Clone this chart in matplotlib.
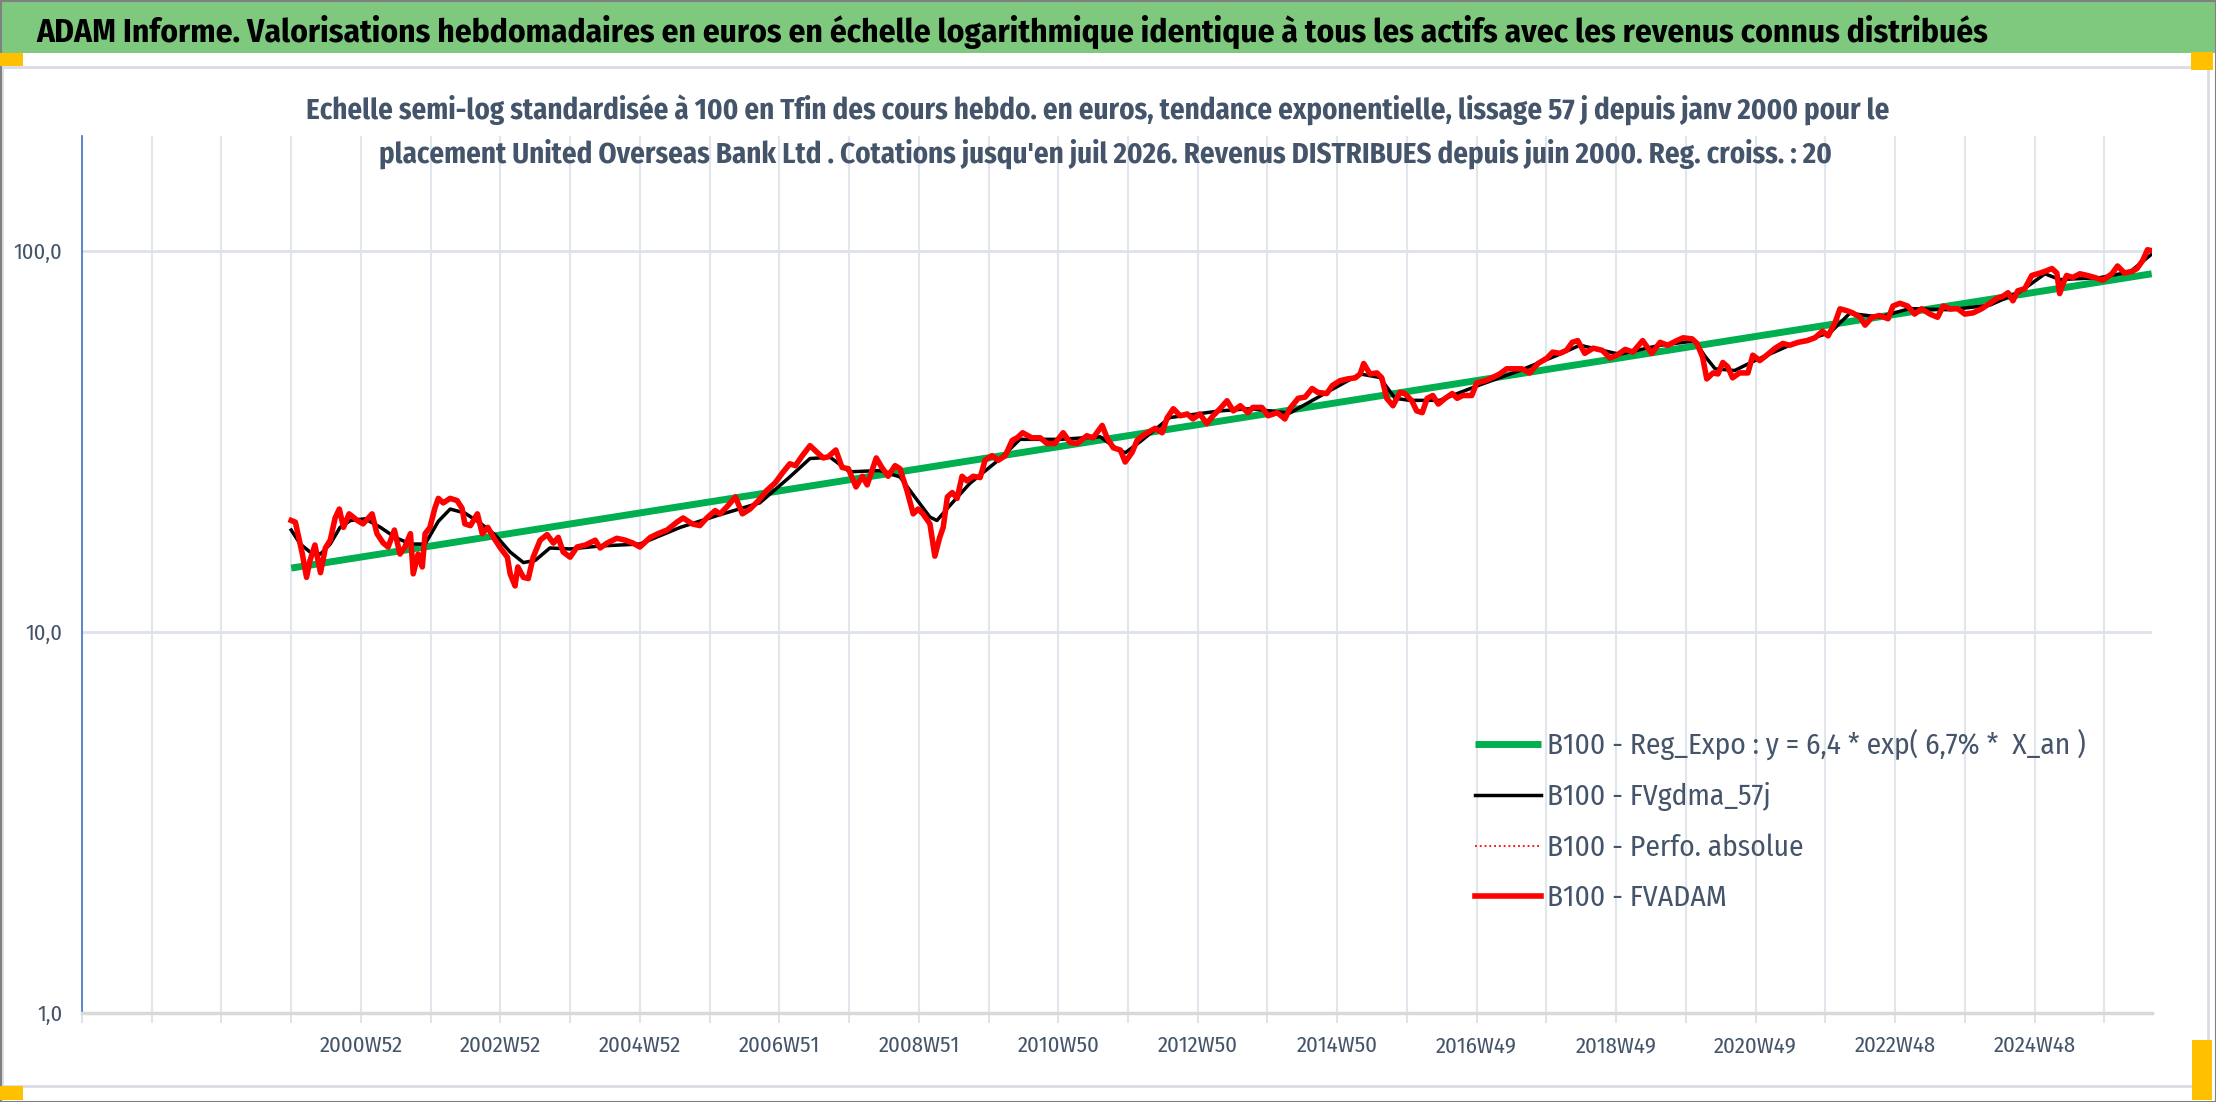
import matplotlib
matplotlib.use('Agg')
import matplotlib.pyplot as plt
from matplotlib.patches import Rectangle
from matplotlib.ticker import FixedLocator, NullLocator
import numpy as np

W, H = 2216, 1102
plt.rcParams['font.family'] = ['Fira Sans Condensed', 'DejaVu Sans']

TITLE = ("ADAM Informe. Valorisations hebdomadaires en euros en échelle logarithmique "
         "identique à tous les actifs avec les revenus connus distribués")
SUB1 = ("Echelle semi-log standardisée à 100 en Tfin des cours hebdo. en euros, tendance "
        "exponentielle, lissage 57 j depuis janv 2000 pour le")
SUB2 = ("placement United Overseas Bank Ltd . Cotations jusqu'en juil 2026. Revenus "
        "DISTRIBUES depuis juin 2000. Reg. croiss. : 20")

labels = ["B100 - Reg_Expo : y = 6,4 * exp( 6,7% *  X_an )",
          "B100 - FVgdma_57j",
          "B100 - Perfo. absolue",
          "B100 - FVADAM"]

# x tick labels, one every 104 weeks starting at the 5th gridline
tick_labels = ["2000W52", "2002W52", "2004W52", "2006W51", "2008W51", "2010W50",
               "2012W50", "2014W50", "2016W49", "2018W49", "2020W49", "2022W48",
               "2024W48"]
y_ticks = [1, 10, 100]
y_tick_labels = ["1,0", "10,0", "100,0"]

# values (time in decimal years)
green_t = [2000.00, 2026.68]
green_v = [14.7, 87.0]

red_t = [2000.00, 2000.06, 2000.16, 2000.22, 2000.27, 2000.34, 2000.42, 2000.49, 2000.56,
         2000.63, 2000.69, 2000.75, 2000.83, 2000.95, 2001.03, 2001.16, 2001.23, 2001.32,
         2001.39, 2001.48, 2001.56, 2001.63, 2001.71, 2001.75, 2001.82, 2001.88, 2001.92,
         2001.99, 2002.06, 2002.11, 2002.18, 2002.28, 2002.38, 2002.45, 2002.49, 2002.57,
         2002.67, 2002.74, 2002.82, 2002.90, 2003.00, 2003.10, 2003.14, 2003.21, 2003.25,
         2003.33, 2003.40, 2003.47, 2003.57, 2003.67, 2003.76, 2003.83, 2003.90, 2004.00,
         2004.10, 2004.22, 2004.36, 2004.43, 2004.53, 2004.67, 2004.79, 2004.90, 2005.00,
         2005.15, 2005.26, 2005.39, 2005.53, 2005.62, 2005.75, 2005.86, 2005.96, 2006.08,
         2006.15, 2006.25, 2006.37, 2006.47, 2006.58, 2006.70, 2006.82, 2006.94, 2007.05,
         2007.15, 2007.23, 2007.33, 2007.44, 2007.54, 2007.63, 2007.70, 2007.81, 2007.90,
         2007.99, 2008.10, 2008.19, 2008.26, 2008.39, 2008.47, 2008.56, 2008.66, 2008.73,
         2008.83, 2008.92, 2008.99, 2009.06, 2009.16, 2009.23, 2009.30, 2009.35, 2009.41,
         2009.48, 2009.55, 2009.62, 2009.69, 2009.78, 2009.88, 2009.95, 2010.05, 2010.14,
         2010.24, 2010.34, 2010.41, 2010.49, 2010.62, 2010.74, 2010.84, 2010.95, 2011.07,
         2011.17, 2011.27, 2011.41, 2011.50, 2011.63, 2011.70, 2011.79, 2011.89, 2011.96,
         2012.06, 2012.13, 2012.24, 2012.39, 2012.49, 2012.56, 2012.65, 2012.75, 2012.85,
         2012.93, 2013.03, 2013.13, 2013.22, 2013.32, 2013.42, 2013.51, 2013.61, 2013.72,
         2013.79, 2013.92, 2014.01, 2014.14, 2014.25, 2014.32, 2014.44, 2014.54, 2014.64,
         2014.72, 2014.85, 2014.93, 2015.04, 2015.15, 2015.26, 2015.33, 2015.38, 2015.47,
         2015.57, 2015.64, 2015.71, 2015.80, 2015.90, 2015.97, 2016.07, 2016.14, 2016.22,
         2016.29, 2016.37, 2016.45, 2016.55, 2016.65, 2016.72, 2016.80, 2016.93, 2017.00,
         2017.12, 2017.22, 2017.33, 2017.43, 2017.52, 2017.65, 2017.76, 2017.88, 2018.01,
         2018.09, 2018.19, 2018.29, 2018.37, 2018.45, 2018.55, 2018.67, 2018.80, 2018.91,
         2019.01, 2019.13, 2019.24, 2019.38, 2019.51, 2019.63, 2019.74, 2019.87, 2019.96,
         2020.09, 2020.16, 2020.24, 2020.30, 2020.39, 2020.46, 2020.53, 2020.60, 2020.67,
         2020.77, 2020.89, 2020.96, 2021.06, 2021.16, 2021.28, 2021.39, 2021.49, 2021.61,
         2021.74, 2021.85, 2021.96, 2022.04, 2022.14, 2022.21, 2022.31, 2022.39, 2022.50,
         2022.57, 2022.67, 2022.78, 2022.90, 2022.97, 2023.07, 2023.18, 2023.28, 2023.38,
         2023.50, 2023.61, 2023.69, 2023.79, 2023.90, 2024.00, 2024.12, 2024.24, 2024.36,
         2024.46, 2024.55, 2024.62, 2024.69, 2024.76, 2024.86, 2024.96, 2025.08, 2025.15,
         2025.25, 2025.32, 2025.36, 2025.41, 2025.46, 2025.55, 2025.65, 2025.76, 2025.86,
         2025.98, 2026.11, 2026.19, 2026.29, 2026.40, 2026.47, 2026.55, 2026.62, 2026.68]
red_v = [19.6, 19.4, 16.0, 13.9, 15.4, 16.9, 14.3, 16.6, 17.4,
         19.9, 21.0, 18.8, 20.4, 19.6, 19.2, 20.4, 18.1, 17.1,
         16.7, 18.5, 16.0, 16.7, 18.1, 14.2, 16.0, 14.8, 18.1,
         18.8, 21.1, 22.4, 21.8, 22.4, 22.1, 21.1, 19.2, 19.0,
         20.4, 18.1, 18.8, 17.7, 16.6, 15.7, 14.2, 13.2, 14.8,
         13.9, 13.8, 15.7, 17.4, 18.0, 17.1, 17.7, 16.2, 15.7,
         16.7, 16.9, 17.4, 16.6, 17.1, 17.6, 17.4, 17.1, 16.7,
         17.7, 18.1, 18.5, 19.4, 19.9, 19.2, 19.0, 19.9, 20.8,
         20.4, 21.3, 22.6, 20.4, 21.0, 22.1, 23.5, 24.6, 26.2,
         27.6, 27.3, 29.0, 30.8, 29.6, 28.6, 28.8, 30.0, 27.0,
         26.8, 24.0, 25.6, 24.3, 28.6, 27.0, 25.6, 27.3, 26.8,
         23.5, 20.4, 21.0, 20.4, 19.2, 15.8, 17.7, 18.8, 22.6,
         23.2, 22.4, 25.6, 24.9, 25.6, 25.4, 28.2, 29.0, 28.2,
         29.0, 31.8, 32.3, 33.3, 32.3, 32.3, 31.2, 31.2, 33.3,
         31.4, 31.2, 32.7, 32.3, 34.8, 32.3, 30.4, 30.0, 27.9,
         29.6, 31.8, 33.0, 34.2, 33.3, 36.4, 38.5, 36.9, 37.3,
         36.2, 37.3, 35.2, 36.9, 38.5, 40.4, 38.0, 39.2, 37.6,
         38.8, 38.8, 36.9, 37.6, 36.2, 38.5, 41.0, 41.3, 43.5,
         42.5, 42.2, 44.3, 45.6, 46.1, 46.4, 47.5, 50.6, 47.5,
         47.8, 46.4, 41.0, 39.2, 42.5, 42.2, 40.4, 38.0, 37.6,
         41.0, 41.7, 39.6, 41.0, 42.2, 41.0, 41.7, 41.7, 45.0,
         45.6, 46.4, 47.5, 49.0, 49.0, 49.0, 47.8, 50.6, 52.3,
         54.2, 53.8, 54.8, 57.5, 58.1, 53.8, 55.5, 54.8, 52.3,
         53.2, 55.1, 54.2, 58.1, 53.8, 57.5, 56.5, 58.1, 59.1,
         58.7, 57.1, 52.6, 46.1, 47.8, 47.5, 50.9, 49.6, 46.4,
         47.8, 47.8, 53.2, 51.5, 53.2, 55.5, 57.1, 56.5, 57.5,
         58.1, 59.1, 61.5, 59.8, 64.8, 70.4, 69.6, 68.7, 66.9,
         63.8, 66.9, 67.6, 66.3, 71.6, 72.8, 71.6, 68.2, 70.4,
         68.2, 66.9, 71.6, 70.4, 70.4, 68.2, 68.7, 70.4, 72.8,
         75.0, 76.0, 77.6, 73.9, 78.5, 79.5, 86.1, 87.4, 88.3,
         89.8, 87.4, 77.2, 82.0, 86.1, 85.1, 87.0, 86.1, 85.1,
         83.7, 87.0, 91.2, 87.4, 88.3, 89.8, 94.2, 100.6, 100.0]

black_t = [2000.00, 2000.13, 2000.27, 2000.42, 2000.56, 2000.70, 2000.85, 2001.06, 2001.28,
           2001.49, 2001.71, 2001.92, 2002.11, 2002.28, 2002.49, 2002.71, 2002.92, 2003.14,
           2003.33, 2003.50, 2003.71, 2004.00, 2004.43, 2005.00, 2005.58, 2006.15, 2006.72,
           2007.15, 2007.44, 2007.73, 2008.01, 2008.44, 2008.73, 2008.95, 2009.16, 2009.26,
           2009.45, 2009.73, 2010.17, 2010.45, 2011.03, 2011.60, 2011.81, 2011.96, 2012.17,
           2012.60, 2013.32, 2013.75, 2014.32, 2014.90, 2015.33, 2015.61, 2015.83, 2016.04,
           2016.47, 2017.05, 2017.62, 2018.19, 2018.48, 2019.05, 2019.63, 2020.13, 2020.27,
           2020.42, 2020.70, 2020.99, 2021.49, 2022.07, 2022.35, 2022.78, 2023.21, 2023.79,
           2024.36, 2024.79, 2025.15, 2025.36, 2025.94, 2026.37, 2026.68]
black_v = [18.5, 17.0, 16.2, 16.0, 17.0, 18.8, 19.6, 19.8, 18.8,
           17.7, 17.0, 17.0, 19.5, 21.0, 20.5, 19.3, 18.0, 16.2,
           15.2, 15.4, 16.6, 16.5, 16.8, 17.0, 18.8, 20.3, 21.8,
           25.5, 28.5, 28.7, 26.3, 26.5, 25.5, 22.5, 20.0, 19.6,
           21.5, 24.5, 28.5, 32.0, 32.0, 32.5, 30.5, 29.5, 31.5,
           36.5, 38.0, 38.5, 37.5, 43.0, 47.5, 46.5, 41.0, 40.5,
           40.5, 44.5, 48.5, 53.5, 56.5, 53.5, 56.5, 58.0, 53.0,
           49.0, 48.5, 51.5, 56.5, 61.0, 68.5, 67.0, 70.5, 70.0,
           72.0, 78.0, 87.0, 84.0, 85.0, 88.0, 98.0]


def to_pos(t):
    # weekly category axis: 156 empty weeks before 2000W01, 52 weeks per year
    return 156 + (np.asarray(t) - 2000) * 52


fig = plt.figure(figsize=(W / 100, H / 100), dpi=100)
renderer = fig.canvas.get_renderer()


def px_rect(x0, y0, x1, y1, **kw):
    r = Rectangle((x0 / W, 1 - y1 / H), (x1 - x0) / W, (y1 - y0) / H,
                  transform=fig.transFigure, figure=fig, **kw)
    fig.patches.append(r)


def fit_size(s, target_px, **kw):
    """font size that gives the string a width of target_px"""
    t = fig.text(0, 0, s, fontsize=20, **kw)
    w = t.get_window_extent(renderer=renderer).width
    t.remove()
    return 20 * target_px / w


# frame, title bar, chart box, orange handles
px_rect(0, 0, W, 53, fc='#7FC97F', ec='none', zorder=-3)
px_rect(2, 67, 2208, 1086, fc='white', ec='#D9DCE3', lw=2, zorder=-2)
px_rect(0.5, 0.5, W - 0.5, H - 0.5, fc='none', ec='#808080', lw=1.5, zorder=-1)
for box in [(0, 53, 23, 66), (2191, 52, 2213, 70), (0, 1086, 23, 1100), (2192, 1040, 2212, 1100)]:
    px_rect(*box, fc='#FFC000', ec='none', zorder=-1)

fs_title = fit_size(TITLE, 1952, fontweight='bold')
fig.text(36 / W, 1 - 42 / H, TITLE, fontsize=fs_title, fontweight='bold', color='black',
         ha='left', va='baseline')
fs_sub = fit_size(SUB1, 1580, fontweight='bold')
fig.text(1098 / W, 1 - 120 / H, SUB1, fontsize=fs_sub, fontweight='bold', color='#44546A',
         ha='center', va='baseline')
fig.text(1105 / W, 1 - 163 / H, SUB2, fontsize=fs_sub, fontweight='bold', color='#44546A',
         ha='center', va='baseline')

ax = fig.add_axes([82 / W, 1 - 1013 / H, (2152 - 82) / W, (1013 - 136) / H])
ax.patch.set_alpha(0)
ax.set_yscale('log')
ax.set_ylim(1, 200)
ax.set_xlim(0, 1543.6)

ax.plot(to_pos(green_t), green_v, color='#00B050', lw=5.0, solid_capstyle='butt', label=labels[0])
ax.plot(to_pos(black_t), black_v, color='black', lw=2.5, label=labels[1])
ax.plot(to_pos(red_t), red_v, color='#FF0000', lw=1.3, ls=':', label=labels[2])
ax.plot(to_pos(red_t), red_v, color='#FF0000', lw=4.0, solid_joinstyle='round', label=labels[3])

# axes styling
for s in ['top', 'right']:
    ax.spines[s].set_visible(False)
ax.spines['left'].set_color('#4472C4')
ax.spines['left'].set_linewidth(1.2)
ax.spines['bottom'].set_color('#D9D9D9')
ax.spines['bottom'].set_linewidth(2.5)

fs_x = fit_size("2000W52", 83)
fs_y = fit_size("100,0", 49)
xt = np.arange(30) * 52
xl = [''] * 30
for i, lab in enumerate(tick_labels):
    xl[4 + 2 * i] = lab
ax.set_xticks(xt)
ax.set_xticklabels(xl)
ax.tick_params(axis='x', length=7, width=1.2, color='#D9DEE6', pad=9,
               labelsize=fs_x, labelcolor='#44546A')
ax.yaxis.set_major_locator(FixedLocator(y_ticks))
ax.yaxis.set_minor_locator(NullLocator())
ax.set_yticklabels(y_tick_labels)
ax.tick_params(axis='y', length=0, pad=14, labelsize=fs_y, labelcolor='#44546A')
ax.grid(axis='x', color='#E1E5EC', lw=1.5)
ax.grid(axis='y', color='#DDE2EA', lw=2)
ax.set_axisbelow(True)

fs_leg = fit_size(labels[0], 540)
fs_leg_px = fs_leg * 100 / 72
ax.legend(loc='upper left', bbox_to_anchor=(1475 / W, 1 - 729 / H), bbox_transform=fig.transFigure,
          frameon=False, fontsize=fs_leg, handlelength=66 / fs_leg_px, handletextpad=6 / fs_leg_px,
          labelspacing=0.75, borderpad=0, borderaxespad=0, labelcolor='#44546A')

fig.savefig('out.png', dpi=100)
